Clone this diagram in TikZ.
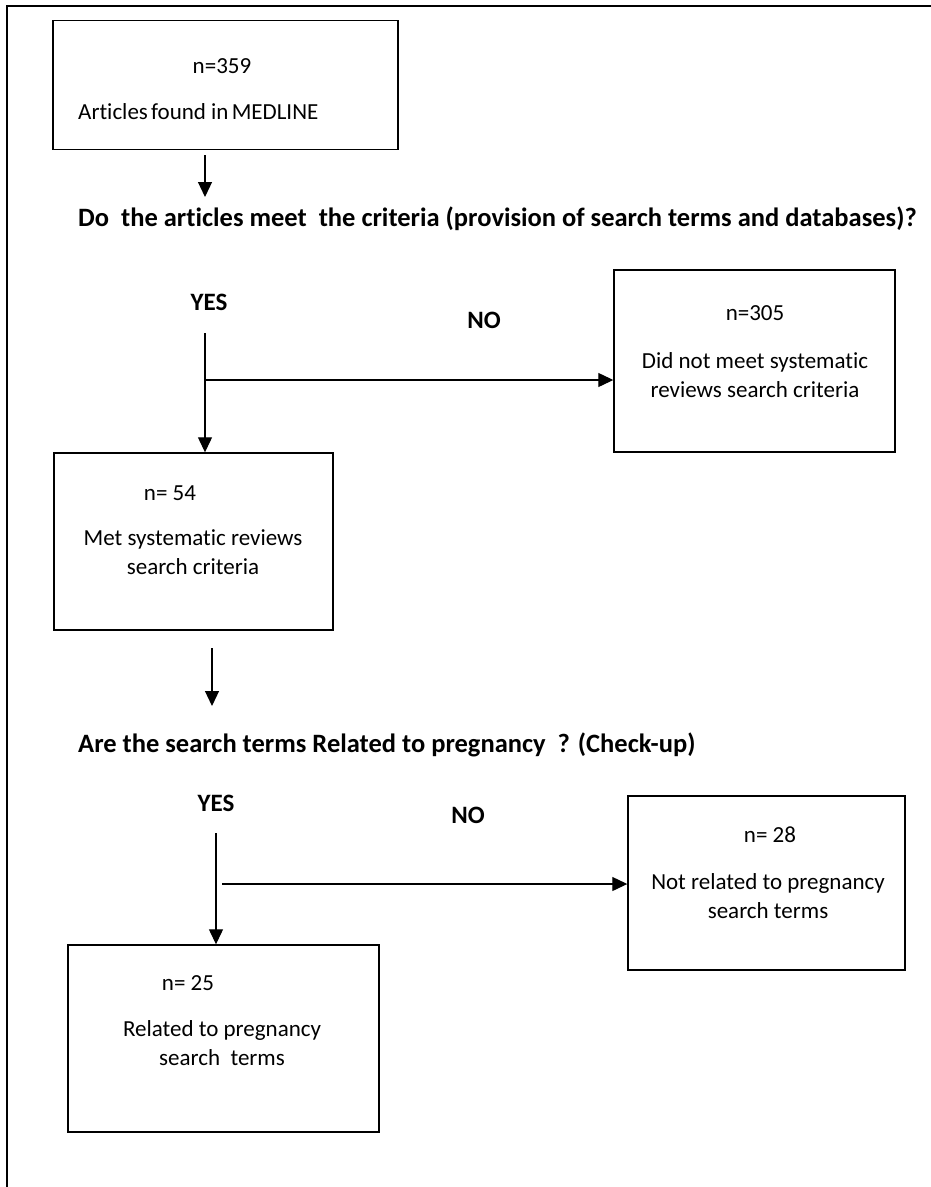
\documentclass[tikz,border=0pt]{standalone}
\usepackage{fontspec}
\setmainfont{Carlito}[Ligatures=CommonOff]
\usetikzlibrary{arrows.meta}

\tikzset{
  box/.style={draw, line width=1.4pt, inner sep=0pt},
  txt/.style={font=\fontsize{23}{29}\selectfont, inner sep=0pt},
  ask/.style={font=\fontsize{26.5}{31}\selectfont\bfseries, inner sep=0pt, anchor=base west},
  yesno/.style={font=\fontsize{25}{29}\selectfont\bfseries, inner sep=0pt},
  flow/.style={line width=1.2pt, -{Triangle[length=15pt,width=14pt]}},
}

\begin{document}
\begin{tikzpicture}[x=1pt,y=-1pt]
  \useasboundingbox (0,0) rectangle (930,1187);
  % page frame
  \draw[line width=1.5pt] (7,1200) -- (7,6) -- (945,6);

  % boxes
  \node[box, minimum width=345, minimum height=129] (found) at (225.5,85) {};
  \node[box, minimum width=281, minimum height=182] (notmet) at (754.5,361) {};
  \node[box, minimum width=279, minimum height=177] (met) at (193.5,541.5) {};
  \node[box, minimum width=277, minimum height=174] (notrel) at (766.5,883) {};
  \node[box, minimum width=311, minimum height=187] (rel) at (223.5,1038.5) {};

  % box texts
  \node[txt] (n359) at (222,66) {n=359};
  \node[txt, anchor=west] (t359) at (78,112) {Articles\hspace{-2pt} found in\hspace{-2pt} MEDLINE};
  \node[txt] (n305) at (755,313) {n=305};
  \node[txt, align=center] (t305) at (755,375) {Did not meet systematic\\reviews search criteria};
  \node[txt] (n54) at (170,493) {n= 54};
  \node[txt, align=center] (t54) at (193,552) {Met systematic reviews\\search criteria};
  \node[txt] (n28) at (770,835) {n= 28};
  \node[txt, align=center] (t28) at (768,896) {Not related to pregnancy\\search terms};
  \node[txt] (n25) at (188,983) {n= 25};
  \node[txt, align=center] (t25) at (222,1043) {Related to pregnancy\\search\ \ terms};

  % questions
  \node[ask] (q1) at (78,226) {Do\ \ the articles meet\ \ the criteria (provision of search terms and databases)?};
  \node[ask] (q2) at (78,752) {Are the search terms Related to pregnancy\ \ ? (Check-up)};
  \node[yesno] (yes1) at (209,302) {YES};
  \node[yesno] (no1) at (484,320) {NO};
  \node[yesno] (yes2) at (216,803) {YES};
  \node[yesno] (no2) at (468,815) {NO};

  % connectors
  \coordinate (a1) at (205,155);
  \coordinate (a1e) at (205,197);
  \draw[flow] (a1) -- (a1e);
  \coordinate (s1) at (205,333);
  \draw[flow] (s1) -- (s1 |- met.north);
  \coordinate (b1) at (205,380);
  \draw[flow] (b1) -- (b1 -| notmet.west);
  \coordinate (a2) at (212,648);
  \coordinate (a2e) at (212,706);
  \draw[flow] (a2) -- (a2e);
  \coordinate (s2) at (216,833);
  \draw[flow] (s2) -- (s2 |- rel.north);
  \coordinate (b2) at (222,884);
  \draw[flow] (b2) -- (b2 -| notrel.west);
\end{tikzpicture}
\end{document}
